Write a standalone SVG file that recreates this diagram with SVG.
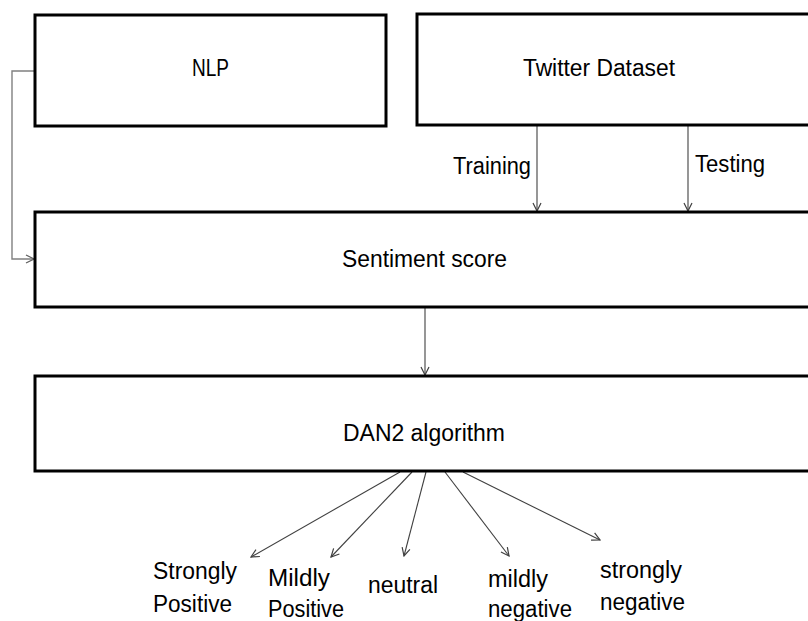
<svg xmlns="http://www.w3.org/2000/svg" width="808" height="621" viewBox="0 0 808 621">
  <style>
    .box { fill: #ffffff; stroke: #000000; stroke-width: 3; }
    .lbl { font-family: "Liberation Sans", Arial, sans-serif; font-size: 23px; fill: #000000; }
    .arrow { fill: none; stroke: #404040; stroke-width: 1.1; marker-end: url(#open); }
    .side { fill: none; stroke: #808080; stroke-width: 1.4; marker-end: url(#openGray); }
  </style>
  <defs>
    <marker id="open" viewBox="0 0 10 10" refX="9" refY="5" markerWidth="10" markerHeight="10" markerUnits="userSpaceOnUse" orient="auto">
      <path d="M1,1 L9,5 L1,9" fill="none" stroke="#404040" stroke-width="1.2"/>
    </marker>
    <marker id="openGray" viewBox="0 0 10 10" refX="9" refY="5" markerWidth="10" markerHeight="10" markerUnits="userSpaceOnUse" orient="auto">
      <path d="M1,1 L9,5 L1,9" fill="none" stroke="#606060" stroke-width="1.3"/>
    </marker>
  </defs>
  <rect width="808" height="621" fill="#ffffff"/>

  <g id="connectors">
    <path class="side" d="M35,71 H12 V259 H34"/>
    <path class="arrow" d="M537,126 V211"/>
    <path class="arrow" d="M688,126 V211"/>
    <path class="arrow" d="M425,307 V375"/>
    <path class="arrow" d="M400,472 L251,557"/>
    <path class="arrow" d="M412,472 L331,557"/>
    <path class="arrow" d="M426,472 L404,556"/>
    <path class="arrow" d="M445,472 L509,556"/>
    <path class="arrow" d="M463,472 L600,540"/>
  </g>

  <g id="nlp">
    <rect class="box" x="35" y="15" width="351" height="111"/>
    <text class="lbl" x="192" y="76" textLength="37" lengthAdjust="spacingAndGlyphs">NLP</text>
  </g>

  <g id="twitter-dataset">
    <rect class="box" x="417" y="14" width="400" height="111"/>
    <text class="lbl" x="523" y="76" textLength="152" lengthAdjust="spacingAndGlyphs">Twitter Dataset</text>
  </g>

  <g id="split-labels">
    <text class="lbl" x="453" y="174" textLength="78" lengthAdjust="spacingAndGlyphs">Training</text>
    <text class="lbl" x="695" y="172" textLength="70" lengthAdjust="spacingAndGlyphs">Testing</text>
  </g>

  <g id="sentiment-score">
    <rect class="box" x="35" y="212" width="790" height="95"/>
    <text class="lbl" x="342" y="267" textLength="165" lengthAdjust="spacingAndGlyphs">Sentiment score</text>
  </g>

  <g id="dan2">
    <rect class="box" x="35" y="376" width="790" height="95"/>
    <text class="lbl" x="343" y="441" textLength="162" lengthAdjust="spacingAndGlyphs">DAN2 algorithm</text>
  </g>

  <g id="strongly-positive">
    <text class="lbl" x="153" y="579" textLength="84" lengthAdjust="spacingAndGlyphs">Strongly</text>
    <text class="lbl" x="153" y="612" textLength="79" lengthAdjust="spacingAndGlyphs">Positive</text>
  </g>
  <g id="mildly-positive">
    <text class="lbl" x="268" y="586" textLength="62" lengthAdjust="spacingAndGlyphs">Mildly</text>
    <text class="lbl" x="268" y="617" textLength="76" lengthAdjust="spacingAndGlyphs">Positive</text>
  </g>
  <g id="neutral">
    <text class="lbl" x="368" y="593" textLength="70" lengthAdjust="spacingAndGlyphs">neutral</text>
  </g>
  <g id="mildly-negative">
    <text class="lbl" x="488" y="587" textLength="60" lengthAdjust="spacingAndGlyphs">mildly</text>
    <text class="lbl" x="488" y="617" textLength="84" lengthAdjust="spacingAndGlyphs">negative</text>
  </g>
  <g id="strongly-negative">
    <text class="lbl" x="600" y="578" textLength="82" lengthAdjust="spacingAndGlyphs">strongly</text>
    <text class="lbl" x="600" y="610" textLength="85" lengthAdjust="spacingAndGlyphs">negative</text>
  </g>
</svg>
